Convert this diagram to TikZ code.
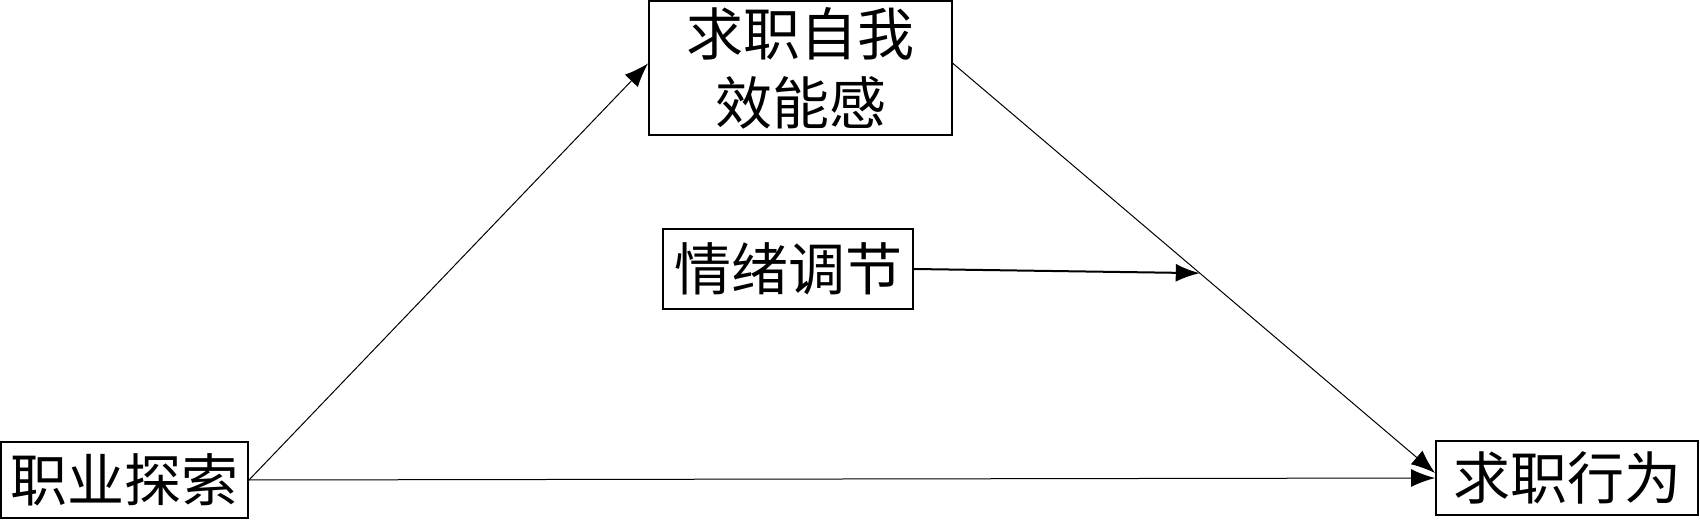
\documentclass[tikz,border=0pt]{standalone}
\usepackage{fontspec}
\newfontfamily\cjk{Noto Sans CJK SC}
\usetikzlibrary{arrows.meta,calc}
\begin{document}
\begin{tikzpicture}[x=1pt,y=1pt,
  box/.style={draw=black,line width=1pt,inner sep=0pt,align=center,
    font=\cjk\fontsize{28.5}{34.5}\selectfont},
  conn/.style={line width=0.5pt,-{Latex[length=12pt,width=9pt]}},
  thickconn/.style={line width=1pt,-{Latex[length=12pt,width=9pt]}}]
\useasboundingbox (0,0) rectangle (850,259.5);
\node[box,minimum width=123.5pt,minimum height=38pt] (A) at (62.25,19.5) {职业探索};
\node[box,minimum width=151.5pt,minimum height=67pt] (M) at (400.25,225.5) {求职自我\\效能感};
\node[box,minimum width=125pt,minimum height=40pt] (W) at (394,125) {情绪调节};
\node[box,minimum width=131pt,minimum height=37pt] (B) at (783.5,20.5) {求职行为};
\coordinate (m1) at ([yshift=2.25pt]M.west);
\coordinate (m2) at ([yshift=2.25pt]M.east);
\coordinate (b1) at ([yshift=2.5pt]B.west);
\path (m2) -- (b1) coordinate[pos=0.512] (P);
\draw[conn] (A.east) -- (m1);
\draw[conn] (m2) -- (b1);
\draw[conn] (A.east) -- (B.west);
\draw[thickconn] (W.east) -- (P);
\end{tikzpicture}
\end{document}
